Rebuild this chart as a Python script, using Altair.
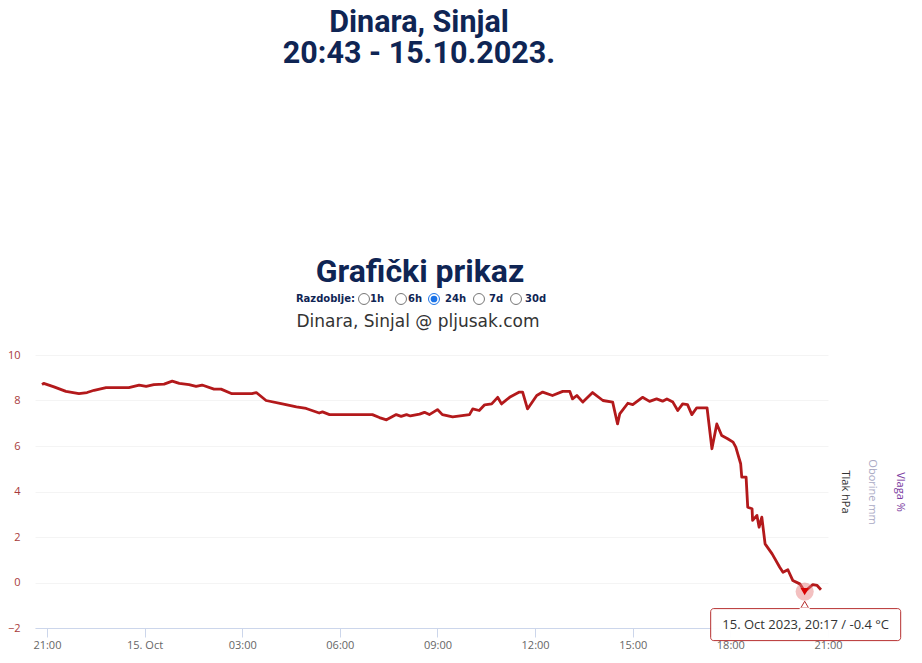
import altair as alt
import pandas as pd

# ---- data ----
times = [
    "2023-10-14T20:51", "2023-10-14T20:54", "2023-10-14T21:13", "2023-10-14T21:35", "2023-10-14T21:59",
    "2023-10-14T22:14", "2023-10-14T22:27", "2023-10-14T22:49", "2023-10-14T23:31", "2023-10-14T23:50",
    "2023-10-15T00:03", "2023-10-15T00:17", "2023-10-15T00:36", "2023-10-15T00:51", "2023-10-15T01:04",
    "2023-10-15T01:22", "2023-10-15T01:35", "2023-10-15T01:46", "2023-10-15T02:08", "2023-10-15T02:21",
    "2023-10-15T02:41", "2023-10-15T03:18", "2023-10-15T03:26", "2023-10-15T03:44", "2023-10-15T04:14",
    "2023-10-15T04:40", "2023-10-15T04:58", "2023-10-15T05:22", "2023-10-15T05:28", "2023-10-15T05:41",
    "2023-10-15T07:00", "2023-10-15T07:13", "2023-10-15T07:26", "2023-10-15T07:44", "2023-10-15T07:53",
    "2023-10-15T08:03", "2023-10-15T08:10", "2023-10-15T08:27", "2023-10-15T08:36", "2023-10-15T08:45",
    "2023-10-15T09:00", "2023-10-15T09:09", "2023-10-15T09:28", "2023-10-15T09:59", "2023-10-15T10:05",
    "2023-10-15T10:17", "2023-10-15T10:27", "2023-10-15T10:40", "2023-10-15T10:51", "2023-10-15T10:58",
    "2023-10-15T11:13", "2023-10-15T11:31", "2023-10-15T11:37", "2023-10-15T11:46", "2023-10-15T12:03",
    "2023-10-15T12:14", "2023-10-15T12:32", "2023-10-15T12:51", "2023-10-15T13:04", "2023-10-15T13:09",
    "2023-10-15T13:17", "2023-10-15T13:28", "2023-10-15T13:46", "2023-10-15T14:05", "2023-10-15T14:23",
    "2023-10-15T14:32", "2023-10-15T14:36", "2023-10-15T14:51", "2023-10-15T15:00", "2023-10-15T15:18",
    "2023-10-15T15:31", "2023-10-15T15:44", "2023-10-15T15:55", "2023-10-15T16:03", "2023-10-15T16:14",
    "2023-10-15T16:23", "2023-10-15T16:32", "2023-10-15T16:41", "2023-10-15T16:49", "2023-10-15T16:58",
    "2023-10-15T17:17", "2023-10-15T17:26", "2023-10-15T17:35", "2023-10-15T17:44", "2023-10-15T17:55",
    "2023-10-15T18:05", "2023-10-15T18:10", "2023-10-15T18:19", "2023-10-15T18:21", "2023-10-15T18:29",
    "2023-10-15T18:32", "2023-10-15T18:40", "2023-10-15T18:41", "2023-10-15T18:49", "2023-10-15T18:53",
    "2023-10-15T18:58", "2023-10-15T19:04", "2023-10-15T19:17", "2023-10-15T19:31", "2023-10-15T19:37",
    "2023-10-15T19:46", "2023-10-15T19:55", "2023-10-15T20:08", "2023-10-15T20:17", "2023-10-15T20:32",
    "2023-10-15T20:40", "2023-10-15T20:47",
]
temps = [
    8.70, 8.75, 8.60, 8.40, 8.30,
    8.35, 8.45, 8.57, 8.57, 8.68,
    8.62, 8.70, 8.72, 8.85, 8.75,
    8.70, 8.62, 8.68, 8.50, 8.50,
    8.30, 8.30, 8.35, 8.00, 7.85,
    7.72, 7.65, 7.45, 7.50, 7.38,
    7.38, 7.25, 7.15, 7.38, 7.30,
    7.38, 7.32, 7.40, 7.48, 7.38,
    7.60, 7.38, 7.28, 7.38, 7.63,
    7.56, 7.81, 7.85, 8.14, 7.85,
    8.14, 8.37, 8.37, 7.63, 8.22,
    8.37, 8.22, 8.40, 8.40, 8.07,
    8.22, 7.93, 8.35, 8.00, 7.93,
    6.97, 7.41, 7.88, 7.82, 8.14,
    7.96, 8.07, 7.97, 8.07, 7.93,
    7.56, 7.85, 7.82, 7.38, 7.68,
    7.68, 5.88, 6.97, 6.46, 6.32,
    6.17, 5.95, 5.22, 4.63, 4.63,
    3.31, 3.24, 2.73, 2.95, 2.43,
    2.87, 1.70, 1.26, 0.67, 0.45,
    0.56, 0.09, -0.06, -0.40, -0.09,
    -0.13, -0.32,
]
y_ticks = [-2, 0, 2, 4, 6, 8, 10]
x_domain = ["2023-10-14T20:38", "2023-10-15T21:00"]
hover_time = "2023-10-15T20:17"
hover_value = -0.4
hover_text = "15. Oct 2023, 20:17 / -0.4 °C"
title_lines = ["Dinara, Sinjal", "20:43 - 15.10.2023."]
section_title = "Grafički prikaz"
period_label = "Razdoblje:"
period_options = ["1h", "6h", "24h", "7d", "30d"]
selected_period = "24h"
subtitle = "Dinara, Sinjal @ pljusak.com"
right_axis_titles = ["Tlak hPa", "Oborine mm", "Vlaga %"]

NAVY = "#0f2554"
LINE_RED = "#b3191b"

df = pd.DataFrame({"time": times, "temp": temps})
hover_df = pd.DataFrame({"time": [hover_time], "temp": [hover_value], "label": [hover_text]})
one = pd.DataFrame({"k": [0]})

tick_vals = [alt.DateTime(year=2023, month=10, date=14, hours=21)] + [
    alt.DateTime(year=2023, month=10, date=15, hours=h) for h in range(0, 24, 3)
]

x_enc = alt.X(
    "time:T",
    scale=alt.Scale(domain=x_domain),
    axis=alt.Axis(
        title=None,
        values=tick_vals,
        labelExpr="hours(datum.value) == 0 ? timeFormat(datum.value, '%-d. %b') : timeFormat(datum.value, '%H:%M')",
        labelColor="#666666",
        labelFontSize=11,
        labelFont="Open Sans",
        domainColor="#ccd6eb",
        tickColor="#ccd6eb",
        tickSize=9,
        labelPadding=2,
        grid=False,
        labelFlush=False,
    ),
)
y_enc = alt.Y(
    "temp:Q",
    scale=alt.Scale(domain=[-2, 10], nice=False),
    axis=alt.Axis(
        title=None,
        values=y_ticks,
        labelColor="#a83a3a",
        labelFontSize=11,
        labelFont="Open Sans",
        ticks=False,
        domain=False,
        labelPadding=15,
        gridColor="#f4f4f4",
    ),
)

line = alt.Chart(df).mark_line(color=LINE_RED, strokeWidth=2.8, strokeJoin="round").encode(x=x_enc, y=y_enc)

halo = alt.Chart(hover_df).mark_point(shape="circle", filled=True, size=330, color="#e57373", opacity=0.45).encode(
    x="time:T", y="temp:Q"
)
marker = alt.Chart(hover_df).mark_point(shape="triangle-down", filled=True, size=70, color="#d90000", opacity=1).encode(
    x="time:T", y="temp:Q"
)
box = alt.Chart(hover_df).mark_rect(
    fill="white", stroke="#b52a2a", strokeWidth=1, cornerRadius=3,
    xOffset=-94, x2Offset=96, yOffset=17, y2Offset=49, opacity=0.97,
).encode(x="time:T", x2="time:T", y="temp:Q", y2="temp:Q")
notch = alt.Chart(hover_df).mark_point(
    shape="triangle-up", filled=True, size=60, fill="white", stroke="#b52a2a", strokeWidth=1, yOffset=13, opacity=1
).encode(x="time:T", y="temp:Q")
notch_cover = alt.Chart(hover_df).mark_rect(
    fill="white", xOffset=-5, x2Offset=5, yOffset=16, y2Offset=18.5
).encode(x="time:T", x2="time:T", y="temp:Q", y2="temp:Q")
tip_text = alt.Chart(hover_df).mark_text(
    font="Open Sans", fontSize=13, color="#333333", dx=1, dy=33, baseline="middle", align="center"
).encode(x="time:T", y="temp:Q", text="label:N")


def label(txt, x, y, size, color, weight="normal", font="Roboto", align="center", angle=0,
          baseline="alphabetic", line_height=None):
    kw = dict(fontSize=size, color=color, fontWeight=weight, font=font, align=align, angle=angle, baseline=baseline)
    if line_height is not None:
        kw["lineHeight"] = line_height
    return alt.Chart(one).mark_text(**kw).encode(x=alt.value(x), y=alt.value(y), text=alt.value(txt))


headers = [
    label(title_lines, 384, -323, 30.5, NAVY, "bold", line_height=31),
    label(section_title, 385, -73, 32, NAVY, "bold"),
    label(subtitle, 383, -28, 17, "#333333", font="DejaVu Sans"),
    label(period_label, 320, -56, 10, NAVY, "bold", font="DejaVu Sans", align="right", baseline="middle"),
]
circle_x = [329, 366, 399, 444, 481]
label_x = [335, 373, 410, 454, 490]
radios = []
for opt, cx, lx in zip(period_options, circle_x, label_x):
    sel = opt == selected_period
    radios.append(
        alt.Chart(one).mark_point(
            shape="circle", filled=True, size=120, fill="white",
            stroke="#1a73e8" if sel else "#767676", strokeWidth=1, opacity=1,
        ).encode(x=alt.value(cx), y=alt.value(-56))
    )
    if sel:
        radios.append(
            alt.Chart(one).mark_point(shape="circle", filled=True, size=45, color="#1a73e8", opacity=1).encode(
                x=alt.value(cx), y=alt.value(-56)
            )
        )
    radios.append(label(opt, lx, -56, 10, NAVY, "bold", font="DejaVu Sans", align="left", baseline="middle"))

right_titles = [
    label(right_axis_titles[0], 810, 137, 11, "#333333", font="Open Sans", angle=90, baseline="middle"),
    label(right_axis_titles[1], 837, 137, 11, "#a9a9c4", font="Open Sans", angle=90, baseline="middle"),
    label(right_axis_titles[2], 865, 137, 11, "#7a3aa0", font="Open Sans", angle=90, baseline="middle"),
]

chart = alt.layer(
    line, halo, marker, box, notch, notch_cover, tip_text, *headers, *radios, *right_titles
).properties(
    width=793,
    height=273,
    autosize=alt.AutoSizeParams(type="none"),
    padding={"left": 27, "top": 347, "right": 86, "bottom": 27},
).configure(background="white", view=alt.ViewConfig(stroke=None))

chart.save("out.html", embed_options={"renderer": "svg", "actions": False})
